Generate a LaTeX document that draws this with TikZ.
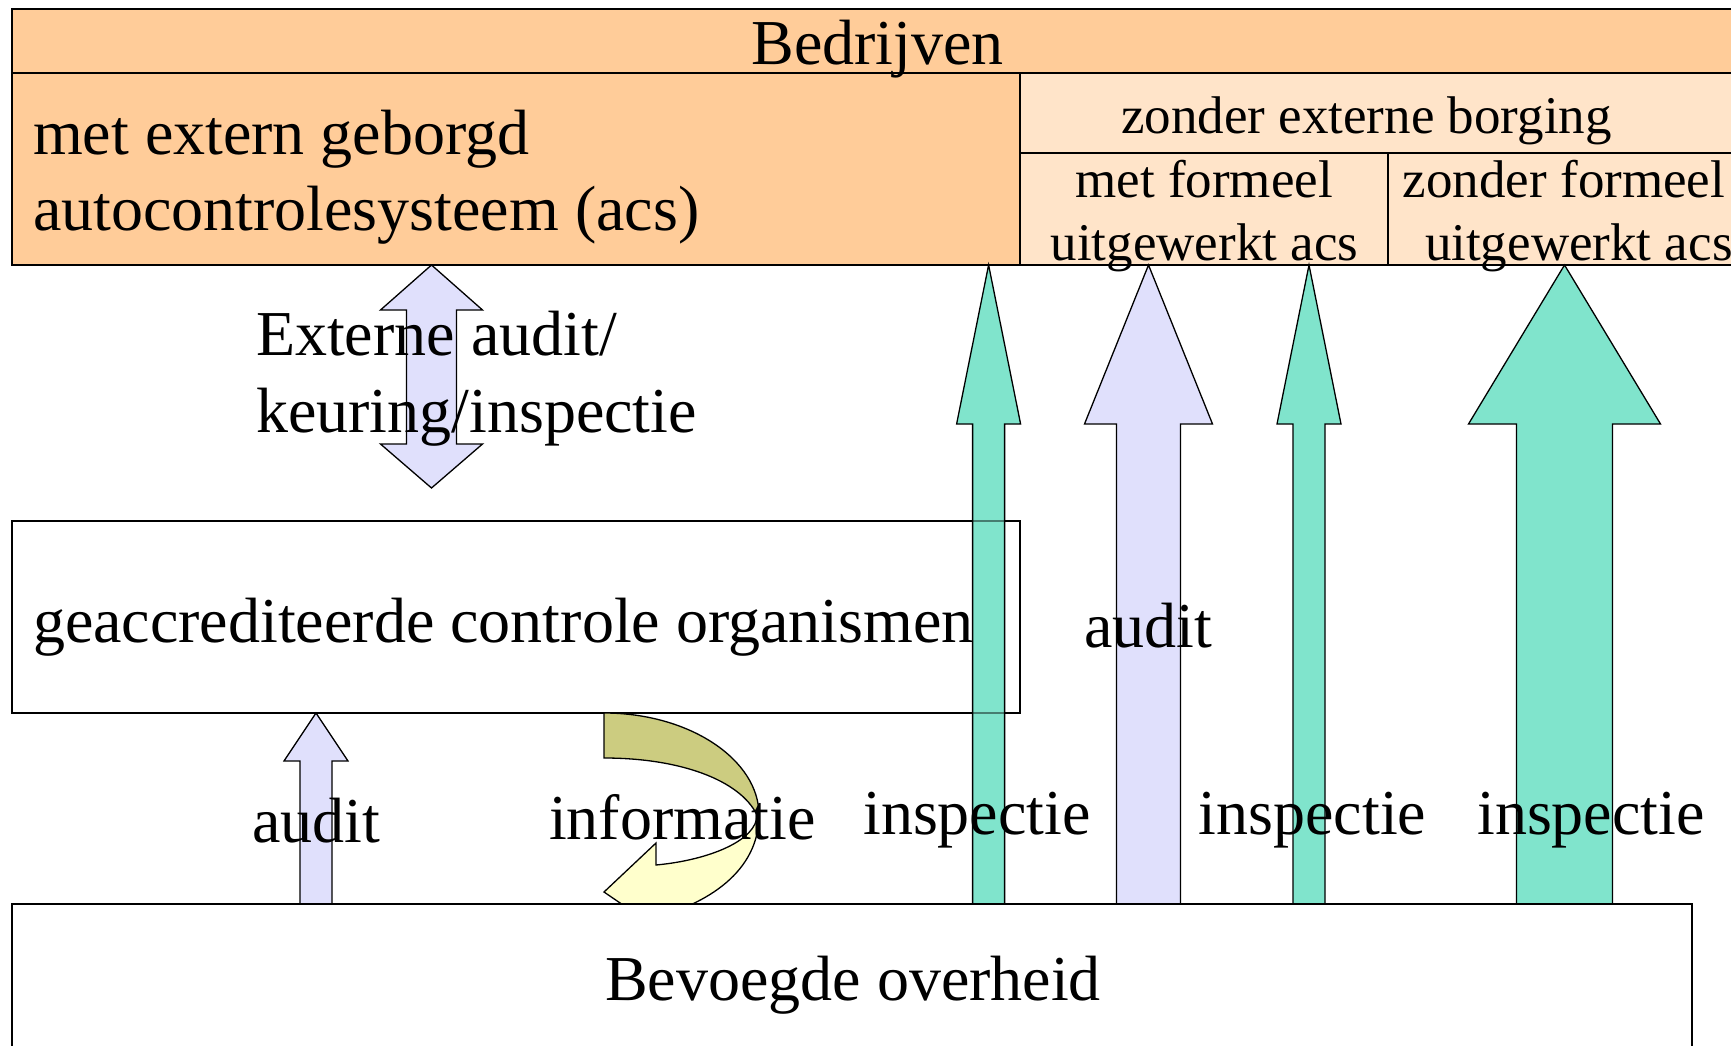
\documentclass[tikz,border=0pt]{standalone}
\usepackage{fontspec}
\setmainfont{Liberation Serif}
\definecolor{peach}{RGB}{255,204,153}
\definecolor{lpeach}{RGB}{255,228,201}
\definecolor{mint}{RGB}{128,228,204}
\definecolor{lav}{RGB}{224,224,252}
\definecolor{olivefill}{RGB}{204,204,128}
\definecolor{lyellow}{RGB}{255,255,204}
\tikzset{
  boxline/.style={draw=black, line width=1.8pt},
  arrowline/.style={draw=black, line width=1.3pt, line join=miter},
  bigtxt/.style={font=\fontsize{64}{76}\selectfont, inner sep=0pt, outer sep=0pt},
  subtxt/.style={font=\fontsize{53}{64}\selectfont, inner sep=0pt, outer sep=0pt},
}
% block arrow pointing up: x, tip y, base y, head-base y, shaft half width, head half width, colour
\newcommand\blockup[7]{%
  \draw[arrowline, fill=#7] (#1,#2) -- ({#1+#6},#4) -- ({#1+#5},#4) -- ({#1+#5},#3)
    -- ({#1-#5},#3) -- ({#1-#5},#4) -- ({#1-#6},#4) -- cycle;}
\begin{document}
\begin{tikzpicture}[x=1pt,y=-1pt]
\useasboundingbox (0,0) rectangle (1731,1046);
\clip (0,0) rectangle (1731,1046);
\fill[white] (0,0) rectangle (1731,1046);
% ---------- Bedrijven block ----------
\draw[boxline, fill=peach] (12,9) rectangle (1760,73);
\draw[boxline, fill=peach] (12,73) rectangle (1020,265);
\draw[boxline, fill=lpeach] (1020,73) rectangle (1760,265);
\draw[boxline] (1020,153) -- (1760,153);
\draw[boxline] (1388,153) -- (1388,265);
\node[bigtxt, anchor=base] (bedr) at (877.5,65) {Bedrijven};
\node[bigtxt, anchor=base west] (ext1) at (33,154) {met extern geborgd};
\node[bigtxt, anchor=base west] (ext2) at (33,230) {autocontrolesysteem (acs)};
\node[subtxt, anchor=base] (zeb) at (1366.5,134) {zonder externe borging};
\node[subtxt, anchor=base] (mf1) at (1204,197) {met formeel};
\node[subtxt, anchor=base] (mf2) at (1204.5,260) {uitgewerkt acs};
\node[subtxt, anchor=base] (zf1) at (1564,197) {zonder formeel};
\node[subtxt, anchor=base west] (zf2) at (1425,260) {uitgewerkt acs};
% ---------- double arrow ----------
\draw[arrowline, fill=lav] (431.5,265) -- (482.5,310) -- (456.5,310) -- (456.5,444)
  -- (482.5,444) -- (431.5,488) -- (380.5,444) -- (406.5,444) -- (406.5,310)
  -- (380.5,310) -- cycle;
\node[bigtxt, anchor=base west] (eai1) at (256,355) {Externe audit/};
\node[bigtxt, anchor=base west] (eai2) at (256,432) {keuring/inspectie};
% ---------- geaccrediteerde controle organismen ----------
\draw[boxline] (12,521) rectangle (1020,713);
% ---------- vertical block arrows ----------
\blockup{988.6}{265}{915}{424}{16}{32}{mint}
\blockup{1148.5}{265}{915}{424}{32}{64}{lav}
\blockup{1309}{265}{915}{424}{16}{32}{mint}
\blockup{1564.5}{265}{915}{424}{48}{96}{mint}
\blockup{316}{713}{915}{761}{16}{32}{lav}
\draw[boxline, opacity=0.45] (12,521) rectangle (1020,713);
\node[bigtxt, anchor=base west] (gco) at (33,642) {geaccrediteerde controle organismen};
% ---------- curved information arrow ----------
\draw[arrowline, fill=olivefill] (604,713) .. controls (690,713) and (759,760) .. (759,815)
  -- (757,815) .. controls (740,780) and (680,758) .. (604,758) -- cycle;
\draw[arrowline, fill=lyellow] (759,815) .. controls (759,870) and (710,905) .. (645,920)
  -- (604,892) -- (656,843) -- (656,865) .. controls (710,860) and (757,840) .. (757,815) -- cycle;
% ---------- Bevoegde overheid ----------
\draw[boxline, fill=white] (12,904) rectangle (1692,1080);
\node[bigtxt, anchor=base] (bo) at (853,1000) {Bevoegde overheid};
% ---------- arrow labels ----------
\node[bigtxt, anchor=base] (aud1) at (1148.5,647) {audit};
\node[bigtxt, anchor=base] (aud2) at (316,842) {audit};
\node[bigtxt, anchor=base west] (info) at (549,839) {informatie};
\node[bigtxt, anchor=base] (insp1) at (977,834) {inspectie};
\node[bigtxt, anchor=base] (insp2) at (1312.5,834) {inspectie};
\node[bigtxt, anchor=base] (insp3) at (1591,834) {inspectie};
\end{tikzpicture}
\end{document}
